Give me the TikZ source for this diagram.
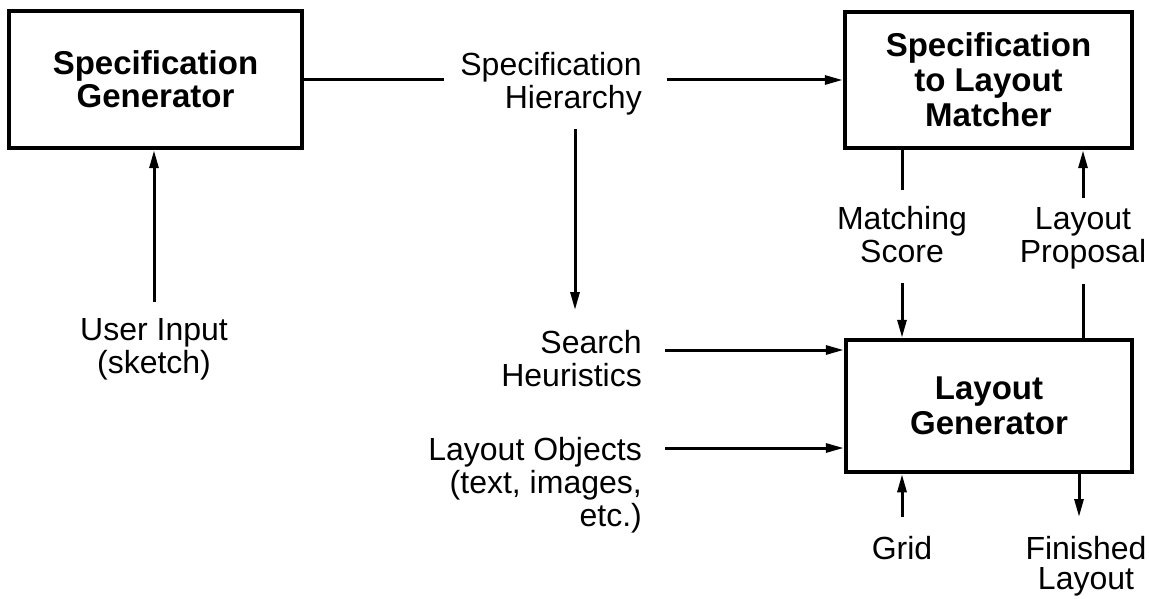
\documentclass[tikz,border=0pt]{standalone}
\usepackage{fontspec}
\setmainfont{Liberation Sans}
\usetikzlibrary{arrows.meta}
\begin{document}
\begin{tikzpicture}[x=1pt,y=-1pt,
  every node/.style={inner sep=0pt,font=\fontsize{32}{33}\selectfont},
  block/.style={draw,line width=4.5pt,align=center,
    font=\fontsize{33}{33}\selectfont\bfseries},
  lbl/.style={align=center},
  lblr/.style={align=right},
  conn/.style={line width=3pt},
  arr/.style={conn,-{Triangle[length=18pt,width=9pt]}}]
\useasboundingbox (0,0) rectangle (1149,599);

% processing blocks
\node[block,minimum width=293pt,minimum height=137pt] (sg) at (155.5,79.5)
  {Specification\\Generator};
\node[block,minimum width=287pt,minimum height=136pt,
  font=\fontsize{33}{35}\selectfont\bfseries] (m) at (988.5,80)
  {Specification\\to Layout\\Matcher};
\node[block,minimum width=286pt,minimum height=132pt,
  font=\fontsize{33}{35}\selectfont\bfseries] (lg) at (989,406)
  {Layout\\Generator};

% data labels
\node[lblr,anchor=north east] (sh) at (642,52) {Specification\\Hierarchy};
\node[lblr,anchor=north east] (shs) at (642,330) {Search\\Heuristics};
\node[lblr,anchor=north east] (lo) at (642,437) {Layout Objects\\(text, images,\\etc.)};
\node[lbl,anchor=north] (ui) at (154,318) {User Input\\(sketch)};
\node[lbl,anchor=north] (ms) at (902,206) {Matching\\Score};
\node[lbl,anchor=north] (lp) at (1083,207) {Layout\\Proposal};
\node[lbl,anchor=north] (gr) at (902,536) {Grid};
\node[lbl,anchor=north,font=\fontsize{32}{30}\selectfont] (fl) at (1086,536)
  {Finished\\Layout};

% connector ends beside the labels
\coordinate (shL) at ([xshift=-16pt]sh.west);
\coordinate (shR) at ([xshift=25pt]sh.east);
\coordinate (shD) at ([xshift=-67pt,yshift=-14pt]sh.south east);
\coordinate (shsR) at ([xshift=23pt,yshift=-20pt]shs.north east);
\coordinate (loR) at ([xshift=23pt,yshift=-11pt]lo.north east);
\coordinate (flU) at ([xshift=-7pt,yshift=19pt]fl.north);

% connectors
\draw[arr] ([yshift=16pt]ui.north) -- (ui.north |- sg.south);
\draw[conn] (sg.east) -- (sg.east -| shL);
\draw[arr] (shR |- m.west) -- (m.west);
\draw[arr] (shD) -- ([yshift=20pt]shs.north east -| shD);
\draw[arr] (shsR) -- (shsR -| lg.west);
\draw[arr] (loR) -- (loR -| lg.west);
\draw[conn] (m.south -| ms.north) -- ([yshift=16pt]ms.north);
\draw[arr] ([yshift=-20pt]ms.south) -- (ms.south |- lg.north);
\draw[arr] ([yshift=9pt]lp.north) -- (lp.north |- m.south);
\draw[conn] ([yshift=-15pt]lp.south) -- (lp.south |- lg.north);
\draw[arr] ([yshift=19pt]gr.north) -- (gr.north |- lg.south);
\draw[arr] (flU |- lg.south) -- (flU);
\end{tikzpicture}
\end{document}
